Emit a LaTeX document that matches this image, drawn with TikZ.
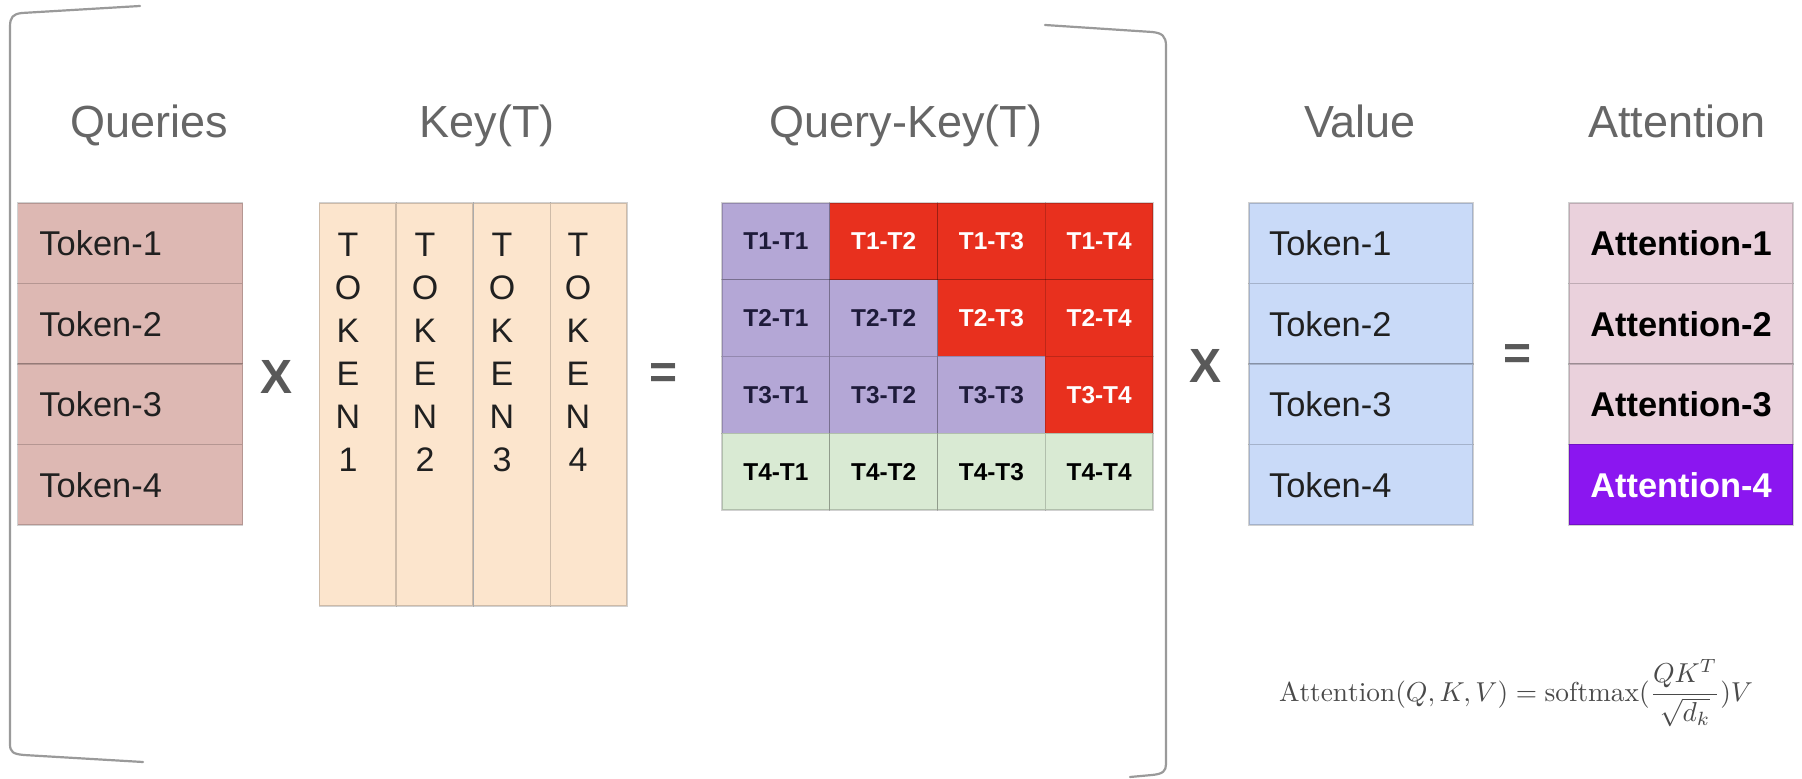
\documentclass[tikz,border=0pt]{standalone}
\usepackage{fontspec}
\usepackage{graphicx}
\newfontfamily\arial{Liberation Sans}
\definecolor{qfill}{HTML}{DDB8B3}
\definecolor{kfill}{HTML}{FCE5CD}
\definecolor{vfill}{HTML}{C9DAF8}
\definecolor{afill}{HTML}{EAD1DC}
\definecolor{apurple}{HTML}{8B16F0}
\definecolor{lav}{HTML}{B4A7D6}
\definecolor{redc}{HTML}{E8301E}
\definecolor{grn}{HTML}{D9EAD3}
\definecolor{titlegray}{HTML}{666666}
\definecolor{symgray}{HTML}{595959}
\definecolor{brgray}{HTML}{9A9A9A}
\definecolor{txt}{HTML}{202020}
\definecolor{ldark}{HTML}{1E1B3A}
\definecolor{fgray}{HTML}{4A4A4A}
\begin{document}
\begin{tikzpicture}[x=0.5pt,y=-0.5pt,
  cellbase/.style={rectangle, draw=black, draw opacity=0.18, line width=0.6pt, inner ysep=0pt},
  qcell/.style={cellbase, fill=qfill, minimum height=40.25pt, text width=90.5pt, inner xsep=11pt, align=left,
     font=\arial\fontsize{17.2}{20}\selectfont, text=txt},
  vcell/.style={cellbase, fill=vfill, minimum height=40.25pt, text width=92pt, inner xsep=10pt, align=left,
     font=\arial\fontsize{17.2}{20}\selectfont, text=txt},
  acell/.style={cellbase, fill=afill, minimum height=40.25pt, minimum width=112pt, inner xsep=0pt,
     font=\arial\bfseries\fontsize{17.2}{20}\selectfont, text=black},
  kcol/.style={cellbase, fill=kfill, minimum height=201.5pt, minimum width=38.3pt, inner xsep=0pt},
  kletters/.style={inner sep=0pt, align=center, font=\arial\fontsize{17}{21.5}\selectfont, text=txt},
  gcell/.style={cellbase, minimum height=38.375pt, minimum width=53.875pt, inner xsep=0pt,
     font=\arial\bfseries\fontsize{12.2}{14}\selectfont},
  title/.style={anchor=base, inner sep=0pt, font=\arial\fontsize{22.5}{26}\selectfont, text=titlegray},
  sym/.style={inner sep=0pt, font=\arial\bfseries\fontsize{24}{28}\selectfont, text=symgray},
  bracket/.style={draw=brgray, line width=1.1pt, line cap=round, line join=round}
]
\useasboundingbox (0,0) rectangle (1802,779);

% brackets
\draw[bracket] (140,6) -- (22,13) .. controls (13,14) and (10,17) .. (10,27) -- (10,744)
   .. controls (10,752) and (13,754) .. (24,755) -- (143,762);
\draw[bracket] (1045,25) -- (1152,32) .. controls (1162,33) and (1166,36) .. (1166,46) -- (1166,764)
   .. controls (1166,771) and (1163,774) .. (1152,775) -- (1130,777);

% titles
\node[title] (tq) at (149,138) {Queries};
\node[title] (tk) at (487,138) {Key(T)};
\node[title] (tqk) at (906,138) {Query-Key(T)};
\node[title] (tv) at (1360,138) {Value};
\node[title] (ta) at (1677,138) {Attention};

% Queries
\node[qcell] (q1) at (130,243.25) {Token-1};
\node[qcell] (q2) at (130,323.75) {Token-2};
\node[qcell] (q3) at (130,404.25) {Token-3};
\node[qcell] (q4) at (130,484.75) {Token-4};

% Key(T)
\node[kcol] (k1) at (357.75,404.5) {};
\node[kcol] (k2) at (434.75,404.5) {};
\node[kcol] (k3) at (512,404.5) {};
\node[kcol] (k4) at (588.6,404.5) {};
\node[kletters] (kl1) at (348,352) {T\\O\\K\\E\\N\\1};
\node[kletters] (kl2) at (425,352) {T\\O\\K\\E\\N\\2};
\node[kletters] (kl3) at (502,352) {T\\O\\K\\E\\N\\3};
\node[kletters] (kl4) at (578,352) {T\\O\\K\\E\\N\\4};

% symbols
\node[sym] (x1) at (277,377) {X};
\node[sym] (e1) at (664,376) {=};
\node[sym] (x2) at (1205,366) {X};
\node[sym] (e2) at (1517,357) {=};

% Query-Key grid
\foreach \r/\c/\fc/\tc in {
  1/1/lav/ldark, 1/2/redc/white, 1/3/redc/white, 1/4/redc/white,
  2/1/lav/ldark, 2/2/lav/ldark, 2/3/redc/white, 2/4/redc/white,
  3/1/lav/ldark, 3/2/lav/ldark, 3/3/lav/ldark, 3/4/redc/white,
  4/1/grn/black, 4/2/grn/black, 4/3/grn/black, 4/4/grn/black}{
  \node[gcell, fill=\fc, text=\tc] (g\r\c) at ({722+107.75*(\c-0.5)},{203+76.75*(\r-0.5)}) {T\r-T\c};
}

% Value
\node[vcell] (v1) at (1361,243.25) {Token-1};
\node[vcell] (v2) at (1361,323.75) {Token-2};
\node[vcell] (v3) at (1361,404.25) {Token-3};
\node[vcell] (v4) at (1361,484.75) {Token-4};

% Attention
\node[acell] (a1) at (1681,243.25) {Attention-1};
\node[acell] (a2) at (1681,323.75) {Attention-2};
\node[acell] (a3) at (1681,404.25) {Attention-3};
\node[acell, fill=apurple, text=white] (a4) at (1681,484.75) {Attention-4};

% formula
\node[inner sep=0pt, text=fgray] (fm) at (1516,693)
  {\resizebox{237pt}{!}{$\mathrm{Attention}(Q,K,V)=\mathrm{softmax}({\displaystyle\frac{QK^T}{\sqrt{d_k}}})V$}};
\end{tikzpicture}
\end{document}
